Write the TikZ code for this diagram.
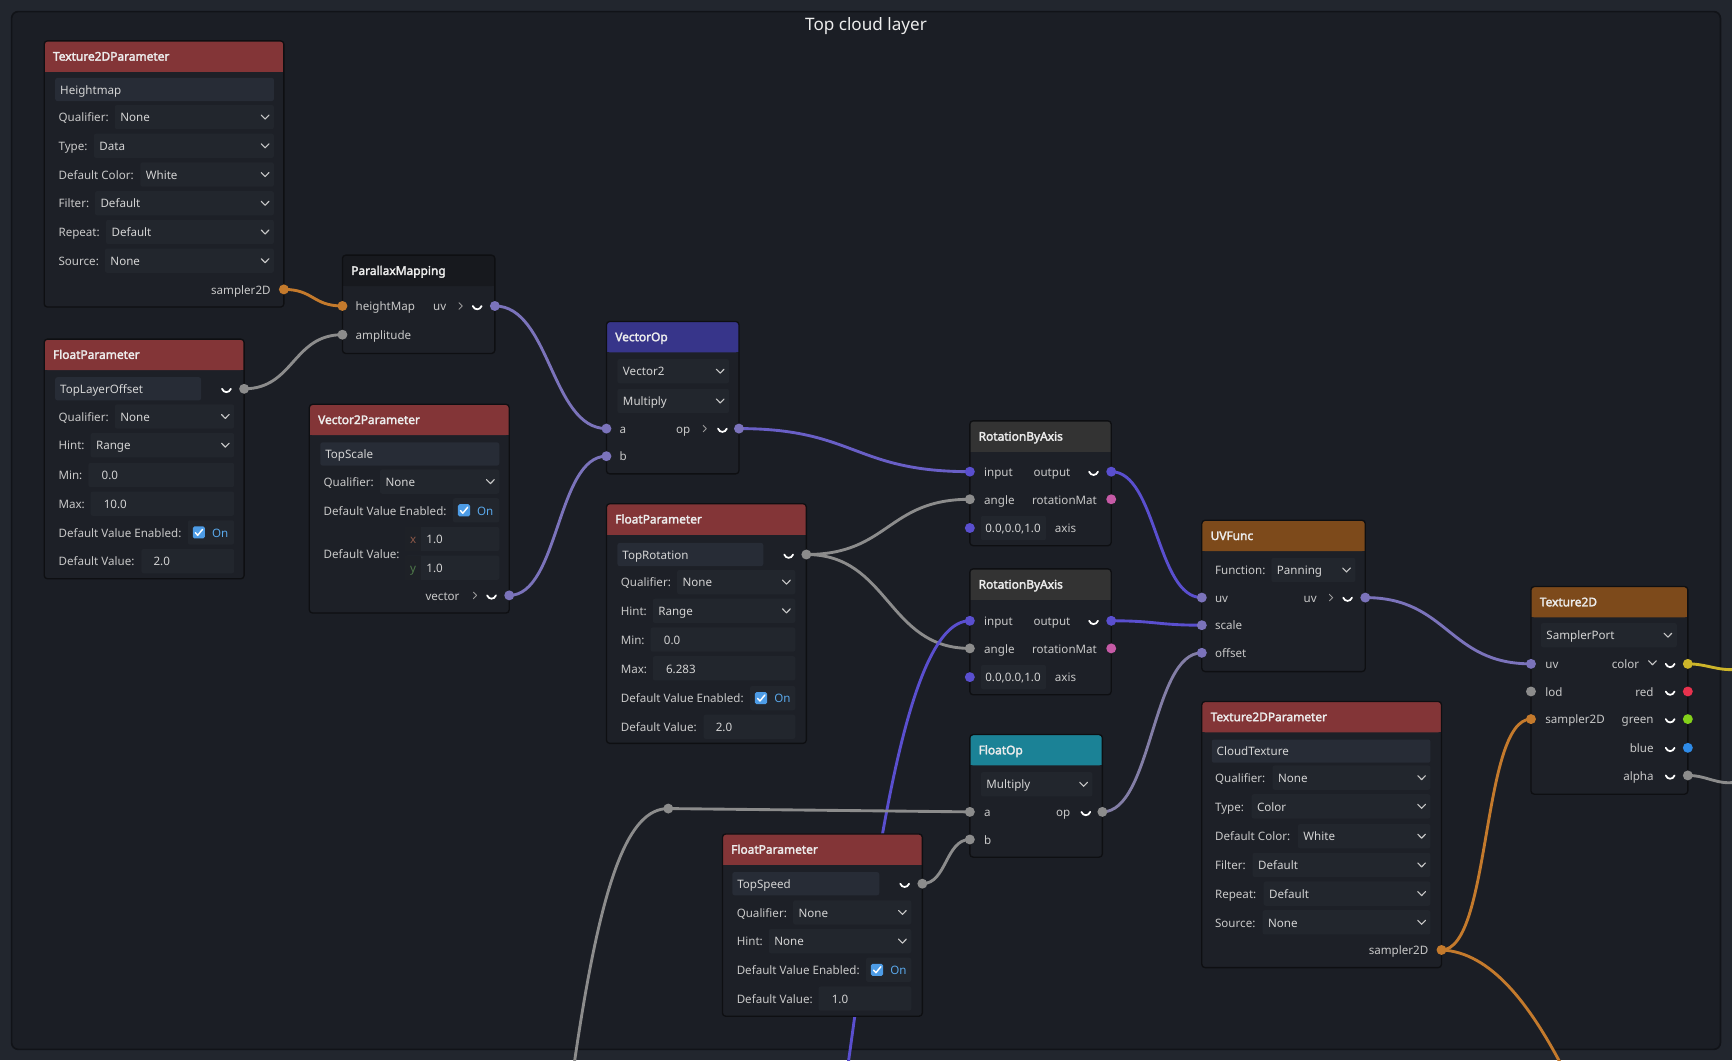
\documentclass[tikz,border=0pt]{standalone}
\usepackage{fontspec}
\setmainfont{Noto Sans}
\newfontfamily\hdrfont{Noto Sans}[AutoFakeBold=2.5]
\usetikzlibrary{calc}
\definecolor{outerbg}{HTML}{22262E}
\definecolor{framebg}{HTML}{1B1E25}
\definecolor{frameline}{HTML}{111318}
\definecolor{bodybg}{HTML}{1D2027}
\definecolor{bodyline}{HTML}{0E0F12}
\definecolor{fieldbg}{HTML}{22262D}
\definecolor{namebg}{HTML}{272C36}
\definecolor{labelc}{HTML}{C8C8C8}
\definecolor{valc}{HTML}{D4D4D4}
\definecolor{hdrtext}{HTML}{ECECEC}
\definecolor{hred}{HTML}{833537}
\definecolor{hblue}{HTML}{37358A}
\definecolor{horange}{HTML}{7D4A1B}
\definecolor{hteal}{HTML}{1B8296}
\definecolor{hgrey}{HTML}{333333}
\definecolor{hdark}{HTML}{17191E}
\definecolor{plav}{HTML}{7B73BB}
\definecolor{ppur}{HTML}{5A4FCF}
\definecolor{pgrey}{HTML}{8C8C8C}
\definecolor{porange}{HTML}{C47A2C}
\definecolor{ppink}{HTML}{C65AA6}
\definecolor{pyellow}{HTML}{CDB52A}
\definecolor{pred}{HTML}{E8324E}
\definecolor{pgreen}{HTML}{84D11A}
\definecolor{pblue}{HTML}{2E8BE8}
\definecolor{chk}{HTML}{4D9CE6}
\definecolor{ontext}{HTML}{5AA9EC}
\definecolor{xcol}{HTML}{8C5848}
\definecolor{ycol}{HTML}{4F7A4A}
\definecolor{xybg}{HTML}{1E2127}
\colorlet{vmix}{plav!45!ppur}
\colorlet{omix}{pgrey!45!plav}
\pgfdeclarelayer{bg}
\pgfdeclarelayer{wires}
\pgfsetlayers{bg,wires,main}
\newcounter{nn}
\tikzset{
  an/.code={\stepcounter{nn}\pgfkeysalso{/tikz/name=t\arabic{nn}}},
  lbl/.style={an,inner sep=0pt,outer sep=0pt,text=labelc,font=\fontsize{10.5}{12}\selectfont,anchor=mid west,yshift=-1.6pt},
  val/.style={lbl,text=valc},
  rlbl/.style={lbl,anchor=mid east},
  hdr/.style={an,inner sep=0pt,outer sep=0pt,text=hdrtext,font=\fontsize{10.8}{12}\hdrfont\bfseries,anchor=mid west,yshift=-1.2pt},
  body/.style={fill=bodybg,inner sep=0pt,outer sep=0pt,rounded corners=3pt},
  border/.style={draw=bodyline,line width=1.2pt,rounded corners=3pt},
  field/.style={fill=fieldbg,rounded corners=2pt},
  namef/.style={fill=namebg,rounded corners=2pt},
  port/.style={circle,inner sep=0pt,outer sep=0pt,minimum size=9pt},
  wire/.style={line width=2.6pt,line cap=round},
  chev/.style={draw=labelc,line width=1pt,line cap=round,line join=round},
  cupst/.style={draw=white,line width=1.6pt,line cap=round},
  arr/.style={draw=gray!80,line width=0.8pt,line cap=round,line join=round},
}
\newcommand\Gnode[7]{%
  \node[body,minimum width=#4pt,minimum height=#5pt,anchor=north west] (#1) at (#2,#3) {};
  \fill[#6,rounded corners=3pt] (#2,#3) rectangle ({#2+#4},{#3+28});
  \fill[#6] (#2,{#3+20}) rectangle ({#2+#4},{#3+28});
  \draw[border] (#1.north west) rectangle (#1.south east);
  \node[hdr] at ({#2+8},{#3+14}) {#7};
}
\newcommand\Chev[2]{\draw[chev] ({#1-3.5},{#2-1.8}) -- ({#1},{#2+1.8}) -- ({#1+3.5},{#2-1.8});}
\newcommand\Ddown[4]{%
  \fill[field] (#1,{#3-11}) rectangle (#2,{#3+11});
  \node[val] at ({#1+5},#3) {#4};
  \Chev{#2-8}{#3}}
\newcommand\Fld[5]{\fill[field] (#1,{#3-11}) rectangle (#2,{#3+11}); \node[val] at (#4,#3) {#5};}
\newcommand\Nfld[4]{\fill[namef] (#1,{#3-10.5}) rectangle (#2,{#3+10.5}); \node[val] at ({#1+4.5},#3) {#4};}
\newcommand\Lb[3]{\node[lbl] at (#1,#2) {#3};}
\newcommand\Rl[3]{\node[rlbl] at (#1,#2) {#3};}
\newcommand\Cupi[2]{\draw[cupst] ({#1-4},{#2}) .. controls ({#1-2.5},{#2+4}) and ({#1+2.5},{#2+4}) .. ({#1+4},{#2});}
\newcommand\Sarr[2]{\draw[arr] ({#1-1.5},{#2-3}) -- ({#1+1.5},#2) -- ({#1-1.5},{#2+3});}
\newcommand\Port[4]{\node[port,fill=#4] (#1) at (#2,#3) {};}
\newcommand\Chk[4]{%
  \fill[field] (#1,{#3-11}) rectangle (#2,{#3+11});
  \fill[chk,rounded corners=1.5pt] ({#4-5.5},{#3-5.5}) rectangle ({#4+5.5},{#3+5.5});
  \draw[white,line width=1.3pt,line cap=round,line join=round] ({#4-3.2},{#3+0.2}) -- ({#4-1},{#3+2.6}) -- ({#4+3.4},{#3-2.8});
  \node[lbl,text=ontext] at ({#4+12},#3) {On};}
\newcommand\Wire[4]{\draw[wire,#1] (#2.center) .. controls ([xshift=#4pt]#2.center) and ([xshift=-#4pt]#3.center) .. (#3.center);}
\begin{document}
\begin{tikzpicture}[x=1pt,y=-1pt]
\useasboundingbox (0,0) rectangle (1568,960);
\begin{pgfonlayer}{bg}
  \fill[outerbg] (0,0) rectangle (1568,960);
  \draw[draw=frameline,fill=framebg,line width=1.5pt,rounded corners=6pt] (10.5,10.5) rectangle (1557.5,950);
\end{pgfonlayer}
\node[an,inner sep=0pt,text=hdrtext,font=\fontsize{15.5}{18}\selectfont,anchor=base] at (784,27.5) {Top cloud layer};

% Texture2DParameter Heightmap
\Gnode{hm}{40}{37}{217}{241}{hred}{Texture2DParameter}
\Nfld{50}{248}{81}{Heightmap}
\Lb{53}{106}{Qualifier:}\Ddown{104}{248}{106}{None}
\Lb{53}{132}{Type:}\Ddown{85}{248}{132}{Data}
\Lb{53}{158}{Default Color:}\Ddown{127}{248}{158}{White}
\Lb{53}{184}{Filter:}\Ddown{86}{248}{184}{Default}
\Lb{53}{210}{Repeat:}\Ddown{96}{248}{210}{Default}
\Lb{53}{236}{Source:}\Ddown{95}{248}{236}{None}
\Rl{245}{262}{sampler2D}
\Port{hmS}{257}{262}{porange}

% ParallaxMapping
\Gnode{pm}{310}{231}{138}{89}{hdark}{ParallaxMapping}
\Port{pmH}{310}{277}{porange}\Lb{322}{277}{heightMap}\Rl{404}{277}{uv}\Sarr{417}{277}\Cupi{432}{277}\Port{pmO}{448}{277}{plav}
\Port{pmA}{310}{303}{pgrey}\Lb{322}{303}{amplitude}

% FloatParameter TopLayerOffset
\Gnode{tlo}{40}{307}{181}{217}{hred}{FloatParameter}
\Nfld{50}{182}{352}{TopLayerOffset}\Cupi{205}{352}\Port{tloO}{221}{352}{pgrey}
\Lb{53}{377}{Qualifier:}\Ddown{104}{212}{377}{None}
\Lb{53}{403}{Hint:}\Ddown{82}{212}{403}{Range}
\Lb{53}{430}{Min:}\Fld{80}{212}{430}{92}{0.0}
\Lb{53}{456}{Max:}\Fld{82}{212}{456}{94}{10.0}
\Lb{53}{482}{Default Value Enabled:}\Chk{170}{212}{482}{180}
\Lb{53}{508}{Default Value:}\Fld{128}{212}{508}{139}{2.0}

% Vector2Parameter TopScale
\Gnode{ts}{280}{366}{181}{189}{hred}{Vector2Parameter}
\Nfld{290}{452}{411}{TopScale}
\Lb{293}{436}{Qualifier:}\Ddown{344}{452}{436}{None}
\Lb{293}{462}{Default Value Enabled:}\Chk{410}{452}{462}{420}
\Lb{293}{501}{Default Value:}
\fill[field] (367,477) rectangle (452,499);
\fill[xybg] (367,477) rectangle (381,499);
\node[lbl,text=xcol,anchor=mid] at (374,488) {x};
\node[val] at (386,488) {1.0};
\fill[field] (367,503) rectangle (452,525);
\fill[xybg] (367,503) rectangle (381,525);
\node[lbl,text=ycol,anchor=mid] at (374,514) {y};
\node[val] at (386,514) {1.0};
\Rl{416}{539}{vector}\Sarr{430}{539}\Cupi{445}{539}\Port{tsO}{461}{539}{plav}

% VectorOp
\Gnode{vop}{549}{291}{120}{138}{hblue}{VectorOp}
\Ddown{559}{660}{336}{Vector2}
\Ddown{559}{660}{363}{Multiply}
\Port{vopA}{549}{388}{plav}\Lb{561}{388}{a}\Rl{625}{388}{op}\Sarr{638}{388}\Cupi{654}{388}\Port{vopO}{669}{388}{plav}
\Port{vopB}{549}{413}{plav}\Lb{561}{413}{b}

% FloatParameter TopRotation
\Gnode{tr}{549}{456}{181}{217}{hred}{FloatParameter}
\Nfld{559}{691}{502}{TopRotation}\Cupi{714}{502}\Port{trO}{730}{502}{pgrey}
\Lb{562}{527}{Qualifier:}\Ddown{613}{720}{527}{None}
\Lb{562}{553}{Hint:}\Ddown{591}{720}{553}{Range}
\Lb{562}{579}{Min:}\Fld{589}{720}{579}{601}{0.0}
\Lb{562}{605}{Max:}\Fld{591}{720}{605}{603}{6.283}
\Lb{562}{632}{Default Value Enabled:}\Chk{679}{720}{632}{689}
\Lb{562}{658}{Default Value:}\Fld{637}{720}{658}{648}{2.0}

% RotationByAxis 1
\Gnode{rba1}{878}{381}{128}{113}{hgrey}{RotationByAxis}
\Port{r1I}{878}{427}{ppur}\Lb{891}{427}{input}\Rl{969}{427}{output}\Cupi{990}{427}\Port{r1O}{1006}{427}{ppur}
\Port{r1A}{878}{452}{pgrey}\Lb{891}{452}{angle}\Rl{993}{452}{rotationMat}\Port{r1M}{1006}{452}{ppink}
\Port{r1X}{878}{478}{ppur}\Fld{888}{947}{478}{892}{0.0,0.0,1.0}\Lb{955}{478}{axis}

% RotationByAxis 2
\Gnode{rba2}{878}{515}{128}{114}{hgrey}{RotationByAxis}
\Port{r2I}{878}{562}{ppur}\Lb{891}{562}{input}\Rl{969}{562}{output}\Cupi{990}{562}\Port{r2O}{1006}{562}{ppur}
\Port{r2A}{878}{587}{pgrey}\Lb{891}{587}{angle}\Rl{993}{587}{rotationMat}\Port{r2M}{1006}{587}{ppink}
\Port{r2X}{878}{613}{ppur}\Fld{888}{947}{613}{892}{0.0,0.0,1.0}\Lb{955}{613}{axis}

% UVFunc
\Gnode{uvf}{1088}{471}{148}{137}{horange}{UVFunc}
\Lb{1100}{516}{Function:}\Ddown{1151}{1227}{516}{Panning}
\Port{uvU}{1088}{541}{plav}\Lb{1100}{541}{uv}\Rl{1192}{541}{uv}\Sarr{1205}{541}\Cupi{1220}{541}\Port{uvO}{1236}{541}{plav}
\Port{uvS}{1088}{566}{plav}\Lb{1100}{566}{scale}
\Port{uvF}{1088}{591}{plav}\Lb{1100}{591}{offset}

% Texture2D
\Gnode{t2d}{1386}{531}{142}{188}{horange}{Texture2D}
\Ddown{1395}{1518}{575}{SamplerPort}
\Port{tU}{1386}{601}{plav}\Lb{1399}{601}{uv}\Rl{1484}{601}{color}\Chev{1496}{600}\Cupi{1512}{601}\Port{tC}{1528}{601}{pyellow}
\Port{tL}{1386}{626}{pgrey}\Lb{1399}{626}{lod}\Rl{1497}{626}{red}\Cupi{1512}{626}\Port{tR}{1528}{626}{pred}
\Port{tS}{1386}{651}{porange}\Lb{1399}{651}{sampler2D}\Rl{1497}{651}{green}\Cupi{1512}{651}\Port{tG}{1528}{651}{pgreen}
\Rl{1497}{677}{blue}\Cupi{1512}{677}\Port{tB}{1528}{677}{pblue}
\Rl{1497}{702}{alpha}\Cupi{1512}{702}\Port{tA}{1528}{702}{pgrey}

% Texture2DParameter CloudTexture
\Gnode{ct}{1088}{635}{217}{241}{hred}{Texture2DParameter}
\Nfld{1097}{1295}{680}{CloudTexture}
\Lb{1100}{704}{Qualifier:}\Ddown{1152}{1295}{704}{None}
\Lb{1100}{730}{Type:}\Ddown{1133}{1295}{730}{Color}
\Lb{1100}{757}{Default Color:}\Ddown{1175}{1295}{757}{White}
\Lb{1100}{783}{Filter:}\Ddown{1134}{1295}{783}{Default}
\Lb{1100}{809}{Repeat:}\Ddown{1144}{1295}{809}{Default}
\Lb{1100}{835}{Source:}\Ddown{1143}{1295}{835}{None}
\Rl{1293}{860}{sampler2D}
\Port{ctS}{1305}{860}{porange}

% FloatOp
\Gnode{fop}{878}{665}{120}{111}{hteal}{FloatOp}
\Ddown{888}{989}{710}{Multiply}
\Port{fA}{878}{735}{pgrey}\Lb{891}{735}{a}\Rl{969}{735}{op}\Cupi{983}{735}\Port{fO}{998}{735}{pgrey}
\Port{fB}{878}{760}{pgrey}\Lb{891}{760}{b}

% FloatParameter TopSpeed
\Gnode{tsp}{654}{755}{181}{165}{hred}{FloatParameter}
\Nfld{663}{796}{800}{TopSpeed}\Cupi{819}{800}\Port{tsS}{835}{800}{pgrey}
\Lb{667}{826}{Qualifier:}\Ddown{718}{825}{826}{None}
\Lb{667}{852}{Hint:}\Ddown{696}{825}{852}{None}
\Lb{667}{878}{Default Value Enabled:}\Chk{784}{825}{878}{794}
\Lb{667}{904}{Default Value:}\Fld{741}{825}{904}{753}{1.0}

% reroute dot and off-canvas ends
\Port{rr}{605}{732}{pgrey}
\coordinate (offP) at (768,962);
\coordinate (offG) at (520,962);
\coordinate (offO) at (1414,965);
\coordinate (offY) at (1572,606);
\coordinate (offA) at (1572,708);

\begin{pgfonlayer}{wires}
  \Wire{porange}{hmS}{pmH}{27}
  \Wire{pgrey}{tloO}{pmA}{45}
  \Wire{plav}{pmO}{vopA}{50}
  \Wire{plav}{tsO}{vopB}{45}
  \Wire{vmix}{vopO}{r1I}{105}
  \Wire{pgrey}{trO}{r1A}{75}
  \Wire{pgrey}{trO}{r2A}{75}
  \Wire{ppur}{r1O}{uvU}{41}
  \Wire{ppur}{r2O}{uvS}{41}
  \Wire{omix}{fO}{uvF}{45}
  \Wire{pgrey}{tsS}{fB}{22}
  \Wire{plav}{uvO}{tU}{75}
  \Wire{porange}{ctS}{tS}{45}
  \draw[wire,porange] (ctS.center) .. controls (1350,862) and (1385,910) .. (offO);
  \draw[wire,ppur] (offP) .. controls (792,790) and (820,562) .. (r2I.center);
  \draw[wire,pgrey] (offG) .. controls (545,790) and (570,732) .. (rr.center);
  \draw[wire,pgrey] (rr.center) -- (fA.center);
  \draw[wire,pyellow] (tC.center) to[out=0,in=185] (offY);
  \draw[wire,pgrey] (tA.center) to[out=0,in=190] (offA);
\end{pgfonlayer}
\end{tikzpicture}
\end{document}
